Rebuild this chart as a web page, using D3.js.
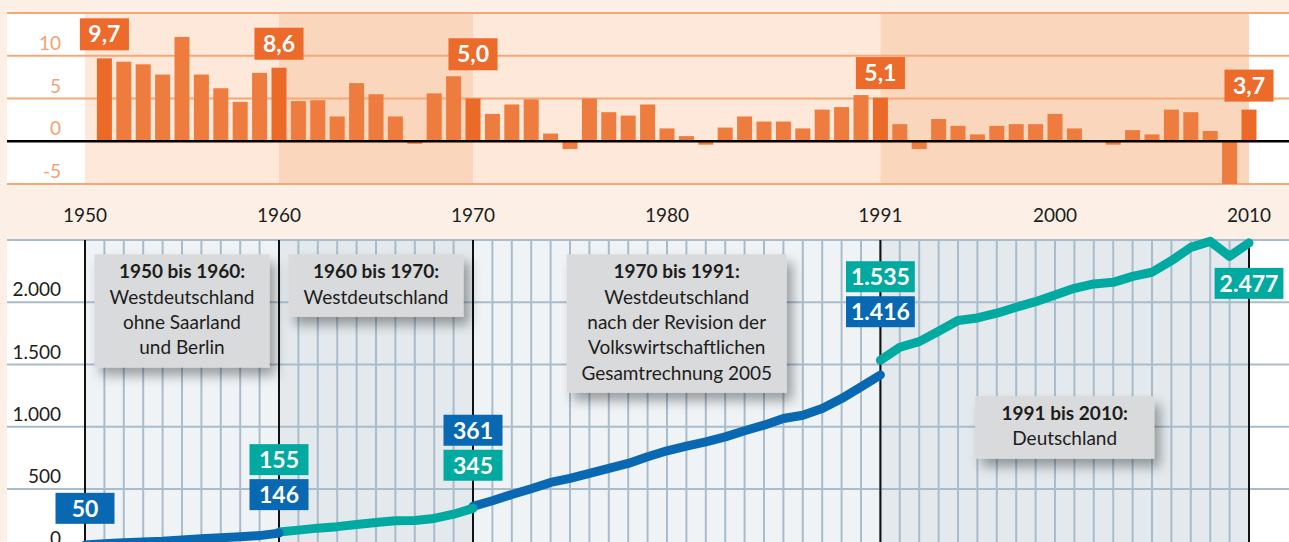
<!DOCTYPE html>
<html>
<head>
<meta charset="utf-8">
<script src="https://cdn.jsdelivr.net/npm/d3@7"></script>
<style>
  html, body { margin: 0; padding: 0; background: #fcefe5; }
  svg { display: block; font-family: Lato, "Open Sans", sans-serif; }
</style>
</head>
<body>
<svg width="1289" height="542"></svg>
<script>
// growth rate of real GDP, % (bars, 1951-2010)
const growthYears = d3.range(1951, 2011);
const growth = [
  9.7, 9.3, 9.0, 7.8, 12.2, 7.8, 6.2, 4.6, 8.0, 8.6,
  4.7, 4.8, 2.9, 6.8, 5.5, 2.9, -0.3, 5.6, 7.6, 5.0,
  3.2, 4.3, 4.9, 0.9, -0.9, 5.0, 3.4, 3.0, 4.3, 1.5,
  0.6, -0.4, 1.6, 2.9, 2.3, 2.3, 1.5, 3.7, 4.0, 5.4,
  5.1, 2.0, -0.9, 2.6, 1.8, 0.8, 1.8, 2.0, 2.0, 3.2,
  1.5, 0.0, -0.4, 1.3, 0.8, 3.7, 3.4, 1.2, -5.0, 3.7
];
const labelledYears = [1951, 1960, 1970, 1991, 2010];

// nominal GDP, bn euro (line, four statistical periods)
const gdp1950 = [50, 60, 68, 74, 80, 91, 100, 109, 116, 126, 146];                 // 1950-1960
const gdp1960 = [155, 170, 186, 198, 215, 232, 245, 247, 264, 298, 345];           // 1960-1970
const gdp1970 = [361, 406, 456, 502, 553, 585, 625, 666, 706, 759, 807, 845, 879,
                 919, 968, 1013, 1067, 1093, 1147, 1227, 1320, 1416];              // 1970-1991
const gdp1991 = [1535, 1639, 1684, 1767, 1853, 1874, 1912, 1960, 2005, 2059, 2112,
                 2147, 2160, 2208, 2241, 2334, 2441, 2489, 2369, 2477];            // 1991-2010

const eras = [[1950, 1960], [1960, 1970], [1970, 1991], [1991, 2010]];
const yearTicks = [1950, 1960, 1970, 1980, 1991, 2000, 2010];
const growthTicks = [10, 5, 0, -5];
const gdpTicks = [2000, 1500, 1000, 500, 0];

const notes = [
  { year: 1955, top: 2385, width: 175, title: "1950 bis 1960:", lines: ["Westdeutschland", "ohne Saarland", "und Berlin"] },
  { year: 1965, top: 2385, width: 175, title: "1960 bis 1970:", lines: ["Westdeutschland"] },
  { year: 1980.5, top: 2385, width: 220, title: "1970 bis 1991:", lines: ["Westdeutschland", "nach der Revision der", "Volkswirtschaftlichen", "Gesamtrechnung 2005"] },
  { year: 2000.5, top: 1246, width: 179, title: "1991 bis 2010:", lines: ["Deutschland"] }
];

const de = d3.formatLocale({ decimal: ",", thousands: ".", grouping: [3], currency: ["", " €"] });
const fmtInt = de.format(",d");
const fmtDec = de.format(".1f");

const BLUE = "#0868b1", TEAL = "#00aaa1";
const series = [
  { start: 1950, values: gdp1950, color: BLUE },
  { start: 1960, values: gdp1960, color: TEAL },
  { start: 1970, values: gdp1970, color: BLUE },
  { start: 1991, values: gdp1991, color: TEAL }
];

// value boxes on the line: row 0 = just above the line, 1 = one more up, -1 = below
const valueLabels = [
  { year: 1950, value: 50, color: BLUE, row: 0 },
  { year: 1960, value: 146, color: BLUE, row: 0 },
  { year: 1960, value: 155, color: TEAL, row: 1 },
  { year: 1970, value: 345, color: TEAL, row: 0 },
  { year: 1970, value: 361, color: BLUE, row: 1 },
  { year: 1991, value: 1416, color: BLUE, row: 0 },
  { year: 1991, value: 1535, color: TEAL, row: 1 },
  { year: 2010, value: 2477, color: TEAL, row: -1 }
];

const svg = d3.select("svg");
const W = 1289;
const panelLeft = 7;

const x = d3.scaleLinear().domain([1950, 2010]).range([85, 1249]);
const yTop = d3.scaleLinear().domain([-5, 15]).range([184, 13]);
const yBot = d3.scaleLinear().domain([0, 2500]).range([551.3, 240]);

const defs = svg.append("defs");
const f = defs.append("filter").attr("id", "shadow")
  .attr("x", "-20%").attr("y", "-20%").attr("width", "150%").attr("height", "160%");
f.append("feDropShadow").attr("dx", 6).attr("dy", 8).attr("stdDeviation", 6)
  .attr("flood-color", "#000").attr("flood-opacity", 0.35);

// ---------- top: growth bars ----------
const topG = svg.append("g");
topG.append("rect").attr("x", panelLeft).attr("y", yTop(15))
  .attr("width", W - panelLeft).attr("height", yTop(-5) - yTop(15)).attr("fill", "#fff");
topG.selectAll("rect.era").data(eras).join("rect").attr("class", "era")
  .attr("x", d => x(d[0])).attr("width", d => x(d[1]) - x(d[0]))
  .attr("y", yTop(15)).attr("height", yTop(-5) - yTop(15))
  .attr("fill", (d, i) => i % 2 ? "#fad6bd" : "#fde8d9");

topG.selectAll("line.grid").data([15, 10, 5, -5]).join("line").attr("class", "grid")
  .attr("x1", panelLeft).attr("x2", W)
  .attr("y1", d => yTop(d)).attr("y2", d => yTop(d))
  .attr("stroke", "#f5a877").attr("stroke-width", 2);

topG.selectAll("text.tick").data(growthTicks).join("text").attr("class", "tick")
  .attr("x", 61).attr("y", d => yTop(d) - 6)
  .attr("text-anchor", "end").attr("font-size", 19).attr("fill", "#f2a170")
  .text(d => d);

const bw = 15;
const bars = growthYears.map((yr, i) => ({ year: yr, value: growth[i] }));
topG.selectAll("rect.bar").data(bars).join("rect").attr("class", "bar")
  .attr("x", d => x(d.year) - bw / 2).attr("width", bw)
  .attr("y", d => yTop(Math.max(0, d.value)))
  .attr("height", d => Math.abs(yTop(d.value) - yTop(0)))
  .attr("fill", d => labelledYears.includes(d.year) ? "#eb6a28" : "#ee7c3e");

topG.append("line").attr("x1", panelLeft).attr("x2", W)
  .attr("y1", yTop(0)).attr("y2", yTop(0)).attr("stroke", "#000").attr("stroke-width", 2.5);

const valueOf = yr => { const i = growthYears.indexOf(yr); return i < 0 ? 0 : growth[i]; };
labelledYears.forEach(yr => {
  const v = valueOf(yr);
  const highest = Math.max(v, valueOf(yr - 1), valueOf(yr + 1));
  const bottom = Math.min(yTop(Math.max(v, 0)), yTop(highest) + 2) - 8;
  const g = topG.append("g");
  const t = g.append("text").attr("x", x(yr)).attr("y", bottom - 8)
    .attr("text-anchor", "middle").attr("font-size", 23).attr("font-weight", 700)
    .attr("fill", "#fff").text(fmtDec(v));
  const w = t.node().getComputedTextLength() + 17;
  g.insert("rect", "text").attr("x", x(yr) - w / 2).attr("y", bottom - 32)
    .attr("width", w).attr("height", 32).attr("fill", "#ec6b2a");
});

// year labels
svg.selectAll("text.year").data(yearTicks).join("text").attr("class", "year")
  .attr("x", d => x(d)).attr("y", 222).attr("text-anchor", "middle")
  .attr("font-size", 19).attr("fill", "#1d1d1b").text(d => d);

// ---------- bottom: GDP lines ----------
const bot = svg.append("g");
const bTop = yBot(2500), bBottom = 542;
bot.append("rect").attr("x", panelLeft).attr("y", bTop)
  .attr("width", W - panelLeft).attr("height", bBottom - bTop).attr("fill", "#fff");
bot.selectAll("rect.era").data(eras).join("rect").attr("class", "era")
  .attr("x", d => x(d[0])).attr("width", d => x(d[1]) - x(d[0]))
  .attr("y", bTop).attr("height", bBottom - bTop)
  .attr("fill", (d, i) => i % 2 ? "#e3e9ed" : "#eff3f6");

bot.selectAll("line.vgrid").data(d3.range(1950, 2011)).join("line").attr("class", "vgrid")
  .attr("x1", d => x(d)).attr("x2", d => x(d)).attr("y1", bTop).attr("y2", bBottom)
  .attr("stroke", "#a9bccb").attr("stroke-width", 2);
bot.selectAll("line.hgrid").data([2500, 2000, 1500, 1000, 500]).join("line").attr("class", "hgrid")
  .attr("x1", panelLeft).attr("x2", W).attr("y1", d => yBot(d)).attr("y2", d => yBot(d))
  .attr("stroke", "#a9bccb").attr("stroke-width", 2);
bot.selectAll("line.era").data([1950, 1960, 1970, 1991, 2010]).join("line").attr("class", "era")
  .attr("x1", d => x(d)).attr("x2", d => x(d)).attr("y1", bTop).attr("y2", bBottom)
  .attr("stroke", "#111").attr("stroke-width", 2);

bot.selectAll("text.tick").data(gdpTicks).join("text").attr("class", "tick")
  .attr("x", 61).attr("y", d => yBot(d) - 6).attr("text-anchor", "end")
  .attr("font-size", 19).attr("fill", "#1d1d1b").text(d => fmtInt(d));

// notes
const lh = 25.3;
notes.forEach(n => {
  const g = bot.append("g");
  const h = (n.lines.length + 1) * lh + 12;
  const x0 = x(n.year) - n.width / 2, y0 = yBot(n.top);
  g.append("rect").attr("x", x0).attr("y", y0).attr("width", n.width).attr("height", h)
    .attr("fill", "#d9dadb").attr("filter", "url(#shadow)");
  g.append("text").attr("x", x(n.year)).attr("y", y0 + 24).attr("text-anchor", "middle")
    .attr("font-size", 19).attr("font-weight", 700).attr("fill", "#1d1d1b").text(n.title);
  n.lines.forEach((l, i) => g.append("text").attr("x", x(n.year)).attr("y", y0 + 24 + (i + 1) * lh)
    .attr("text-anchor", "middle").attr("font-size", 19).attr("fill", "#1d1d1b").text(l));
});

// lines
const allPts = [];
const line = d3.line().x(d => x(d.year)).y(d => yBot(d.value));
const drawOrder = [2, 1, 0, 3];
drawOrder.forEach(k => {
  const s = series[k];
  const pts = s.values.map((v, i) => ({ year: s.start + i, value: v }));
  allPts.push(...pts);
  bot.append("path").datum(pts).attr("d", line).attr("fill", "none")
    .attr("stroke", s.color).attr("stroke-width", 9)
    .attr("stroke-linecap", "round").attr("stroke-linejoin", "round");
});

// value boxes, stacked above the highest nearby point of the line
const boxH = 31;
valueLabels.forEach(l => {
  const near = allPts.filter(p => p.year === l.year || p.year === l.year + 1);
  const yPt = yBot(d3.max(near, p => p.value));
  let top0;
  if (l.row >= 0) top0 = yPt - 20 - boxH - l.row * (boxH + 4);
  else top0 = yBot(l.value) + 25;
  const g = bot.append("g");
  const t = g.append("text").attr("x", x(l.year)).attr("y", top0 + 24)
    .attr("text-anchor", "middle").attr("font-size", 23).attr("font-weight", 700)
    .attr("fill", "#fff").text(fmtInt(l.value));
  const w = Math.max(59, t.node().getComputedTextLength() + 10);
  g.insert("rect", "text").attr("x", x(l.year) - w / 2).attr("y", top0)
    .attr("width", w).attr("height", boxH).attr("fill", l.color);
});
</script>
</body>
</html>
